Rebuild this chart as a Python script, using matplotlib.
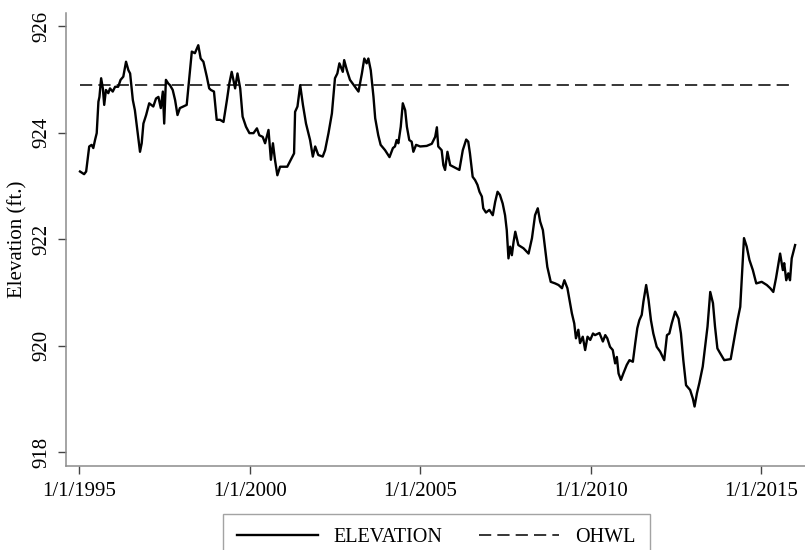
#!/usr/bin/env python3
"""
Lake elevation record, 1995-2015, against the ordinary high water level (OHWL).
Writes out.png.
"""
import numpy as np
import matplotlib
matplotlib.use("Agg")
import matplotlib.pyplot as plt

# time in decimal years, elevation in ft
YEAR = [
    1995.02, 1995.14, 1995.20, 1995.29, 1995.36, 1995.41, 1995.46, 1995.51,
    1995.56, 1995.59, 1995.64, 1995.69, 1995.73, 1995.78, 1995.85, 1995.90,
    1995.98, 1996.05, 1996.14, 1996.21, 1996.29, 1996.37, 1996.44, 1996.49,
    1996.57, 1996.63, 1996.70, 1996.78, 1996.83, 1996.88, 1996.96, 1997.05,
    1997.17, 1997.25, 1997.32, 1997.39, 1997.45, 1997.49, 1997.54, 1997.61,
    1997.66, 1997.74, 1997.81, 1997.88, 1997.95, 1998.05, 1998.15, 1998.23,
    1998.30, 1998.39, 1998.49, 1998.56, 1998.64, 1998.74, 1998.81, 1998.86,
    1998.95, 1999.03, 1999.13, 1999.23, 1999.33, 1999.40, 1999.47, 1999.52,
    1999.57, 1999.64, 1999.72, 1999.79, 1999.89, 1999.99, 2000.11, 2000.21,
    2000.28, 2000.38, 2000.45, 2000.55, 2000.62, 2000.68, 2000.74, 2000.81,
    2000.89, 2000.99, 2001.10, 2001.23, 2001.30, 2001.33, 2001.40, 2001.48,
    2001.56, 2001.65, 2001.77, 2001.85, 2001.92, 2002.01, 2002.14, 2002.21,
    2002.31, 2002.41, 2002.50, 2002.57, 2002.63, 2002.73, 2002.77, 2002.85,
    2002.94, 2003.09, 2003.19, 2003.29, 2003.36, 2003.43, 2003.48, 2003.55,
    2003.63, 2003.68, 2003.77, 2003.84, 2003.97, 2004.10, 2004.20, 2004.26,
    2004.31, 2004.36, 2004.43, 2004.49, 2004.56, 2004.61, 2004.68, 2004.75,
    2004.80, 2004.88, 2005.00, 2005.19, 2005.34, 2005.44, 2005.49, 2005.53,
    2005.63, 2005.68, 2005.73, 2005.80, 2005.88, 2005.97, 2006.15, 2006.25,
    2006.35, 2006.41, 2006.46, 2006.54, 2006.61, 2006.68, 2006.74, 2006.81,
    2006.85, 2006.93, 2007.03, 2007.13, 2007.20, 2007.27, 2007.34, 2007.42,
    2007.49, 2007.54, 2007.59, 2007.64, 2007.69, 2007.74, 2007.79, 2007.88,
    2008.03, 2008.18, 2008.28, 2008.37, 2008.45, 2008.52, 2008.60, 2008.67,
    2008.73, 2008.83, 2008.96, 2009.06, 2009.16, 2009.23, 2009.32, 2009.38,
    2009.45, 2009.52, 2009.57, 2009.64, 2009.69, 2009.77, 2009.84, 2009.91,
    2009.99, 2010.07, 2010.13, 2010.26, 2010.36, 2010.43, 2010.49, 2010.57,
    2010.65, 2010.72, 2010.77, 2010.82, 2010.89, 2010.96, 2011.06, 2011.14,
    2011.24, 2011.31, 2011.37, 2011.43, 2011.50, 2011.55, 2011.63, 2011.70,
    2011.77, 2011.84, 2011.94, 2012.04, 2012.16, 2012.24, 2012.31, 2012.38,
    2012.48, 2012.58, 2012.65, 2012.72, 2012.80, 2012.92, 2013.00, 2013.05,
    2013.12, 2013.19, 2013.29, 2013.36, 2013.43, 2013.51, 2013.59, 2013.65,
    2013.72, 2013.80, 2013.92, 2014.11, 2014.21, 2014.31, 2014.39, 2014.44,
    2014.50, 2014.58, 2014.66, 2014.76, 2014.86, 2015.02, 2015.17, 2015.27,
    2015.36, 2015.44, 2015.56, 2015.64, 2015.68, 2015.74, 2015.80, 2015.85,
    2015.90, 2016.00,
]
ELEV = [
    923.27, 923.22, 923.27, 923.74, 923.77, 923.71, 923.86, 923.99,
    924.58, 924.67, 925.02, 924.83, 924.52, 924.80, 924.74, 924.83,
    924.77, 924.86, 924.86, 924.99, 925.05, 925.33, 925.17, 925.11,
    924.61, 924.42, 924.05, 923.64, 923.80, 924.17, 924.33, 924.55,
    924.49, 924.64, 924.67, 924.46, 924.77, 924.17, 924.99, 924.92,
    924.89, 924.80, 924.61, 924.33, 924.46, 924.49, 924.52, 925.05,
    925.52, 925.49, 925.64, 925.39, 925.33, 925.05, 924.83, 924.80,
    924.77, 924.24, 924.24, 924.20, 924.61, 924.92, 925.14, 924.99,
    924.83, 925.11, 924.83, 924.30, 924.11, 923.99, 923.99, 924.08,
    923.95, 923.92, 923.80, 924.05, 923.49, 923.80, 923.49, 923.20,
    923.36, 923.36, 923.36, 923.52, 923.61, 924.39, 924.49, 924.89,
    924.52, 924.17, 923.86, 923.55, 923.74, 923.58, 923.55, 923.67,
    923.99, 924.36, 925.02, 925.11, 925.30, 925.14, 925.36, 925.17,
    924.99, 924.86, 924.77, 925.11, 925.39, 925.30, 925.39, 925.17,
    924.67, 924.27, 923.95, 923.77, 923.67, 923.54, 923.71, 923.74,
    923.86, 923.80, 924.11, 924.55, 924.42, 924.11, 923.86, 923.83,
    923.64, 923.77, 923.74, 923.75, 923.79, 923.92, 924.10, 923.74,
    923.67, 923.39, 923.30, 923.64, 923.39, 923.36, 923.30, 923.67,
    923.87, 923.83, 923.61, 923.17, 923.11, 923.02, 922.89, 922.80,
    922.58, 922.50, 922.55, 922.45, 922.70, 922.89, 922.83, 922.67,
    922.45, 922.17, 921.64, 921.86, 921.70, 921.95, 922.14, 921.89,
    921.83, 921.73, 922.02, 922.45, 922.58, 922.33, 922.17, 921.80,
    921.48, 921.20, 921.17, 921.14, 921.08, 921.23, 921.08, 920.86,
    920.61, 920.42, 920.14, 920.30, 920.05, 920.17, 919.92, 920.17,
    920.11, 920.23, 920.20, 920.24, 920.08, 920.20, 920.14, 919.98,
    919.92, 919.67, 919.79, 919.48, 919.36, 919.48, 919.64, 919.73,
    919.70, 920.05, 920.33, 920.48, 920.58, 920.83, 921.14, 920.86,
    920.48, 920.23, 919.98, 919.89, 919.73, 920.20, 920.23, 920.42,
    920.64, 920.51, 920.23, 919.73, 919.26, 919.17, 919.01, 918.86,
    919.11, 919.30, 919.61, 919.98, 920.36, 921.01, 920.80, 920.36,
    919.95, 919.86, 919.73, 919.75, 920.11, 920.48, 920.73, 921.30,
    922.02, 921.86, 921.61, 921.42, 921.17, 921.20, 921.14, 921.08,
    921.01, 921.27, 921.73, 921.42, 921.55, 921.23, 921.36, 921.23,
    921.64, 921.89,
]
OHWL = 924.9

XTICKS = [1995, 2000, 2005, 2010, 2015]
XTICK_LABELS = ["1/1/1995", "1/1/2000", "1/1/2005", "1/1/2010", "1/1/2015"]
YTICKS = [918, 920, 922, 924, 926]

AXIS_GRAY = "#8c8c8c"


def main():
    plt.rcParams["font.family"] = ["Liberation Serif", "DejaVu Serif"]
    plt.rcParams["font.size"] = 14.5

    fig = plt.figure(figsize=(8.05, 5.5), dpi=100)
    ax = fig.add_axes([0.0814, 0.1536, 0.9186, 0.8236])

    t = np.array(YEAR)
    z = np.array(ELEV)
    ax.plot(t, z, color="black", lw=1.7, solid_joinstyle="round",
            label="ELEVATION")
    ax.plot([t[0], t[-1]], [OHWL, OHWL], color="black", lw=1.1,
            dashes=(8, 4), label="OHWL")

    ax.set_xlim(1994.595, 2016.29)
    ax.set_ylim(917.753, 926.253)
    ax.set_xticks(XTICKS)
    ax.set_xticklabels(XTICK_LABELS)
    ax.set_yticks(YTICKS)
    ax.set_yticklabels([str(v) for v in YTICKS], rotation=90, va="center")
    ax.set_ylabel("Elevation (ft.)", fontsize=15, labelpad=4)

    for s in ("top", "right"):
        ax.spines[s].set_visible(False)
    for s in ("left", "bottom"):
        ax.spines[s].set_color(AXIS_GRAY)
        ax.spines[s].set_linewidth(1.1)
    ax.tick_params(axis="both", direction="out", length=6, width=1.0,
                   color="#444444", labelsize=15)
    ax.tick_params(axis="x", pad=6)
    ax.tick_params(axis="y", pad=4)

    leg = fig.legend(loc="upper left", bbox_to_anchor=(223 / 805, 1 - 514 / 550),
                     bbox_transform=fig.transFigure, ncol=2, frameon=True,
                     fancybox=False, borderaxespad=0, fontsize=14.5,
                     handlelength=4.0, handletextpad=0.8, columnspacing=1.8,
                     borderpad=0.7)
    leg.get_frame().set_edgecolor(AXIS_GRAY)
    leg.get_frame().set_linewidth(1.0)

    fig.savefig("out.png", dpi=100)
    plt.close(fig)


if __name__ == "__main__":
    main()
